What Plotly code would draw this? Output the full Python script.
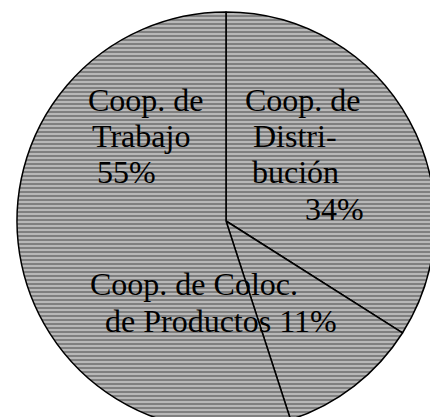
import plotly.graph_objects as go

# Data (clockwise from 12 o'clock)
categories = ["Coop. de Distribución", "Coop. de Coloc. de Productos", "Coop. de Trabajo"]
values = [34, 11, 55]

W, H = 438, 440
OFF = 8  # page body margin offset

def px_x(x):
    return (x - OFF) / W

def px_y(y):
    return 1 - (y - OFF) / H

# pie circle in window pixels: centre, radius
cx, cy, r = 226, 221, 209

fig = go.Figure(go.Pie(
    labels=categories,
    values=values,
    sort=False,
    direction="clockwise",
    rotation=0,
    textinfo="none",
    hoverinfo="label+percent",
    showlegend=False,
    domain=dict(x=[px_x(cx - r), px_x(cx + r)], y=[px_y(cy + r), px_y(cy - r)]),
    marker=dict(
        colors=["#808080"] * 3,
        line=dict(color="black", width=1.5),
        pattern=dict(shape="-", fgcolor="white", bgcolor="#808080",
                     size=4, solidity=0.22, fillmode="replace"),
    ),
))

# label lines: (text, left x px, baseline y px) in window pixels
label_lines = [
    ("Coop. de", 88, 111),
    ("Trabajo", 92, 147),
    ("55%", 97, 183),
    ("Coop. de", 245, 111),
    ("Distri-", 253, 147),
    ("bución", 252, 183),
    ("34%", 305, 220),
    ("Coop. de Coloc.", 90, 295),
    ("de Productos 11%", 105, 332),
]

FS = 32
for txt, xpx, ybase in label_lines:
    fig.add_annotation(
        text=txt, xref="paper", yref="paper",
        x=px_x(xpx - 2), y=px_y(ybase - 11),
        xanchor="left", yanchor="middle", showarrow=False,
        font=dict(family="Liberation Serif, Times New Roman, serif", size=FS, color="black"),
    )

fig.update_layout(
    width=W, height=H,
    margin=dict(l=0, r=0, t=0, b=0),
    paper_bgcolor="white",
    plot_bgcolor="white",
)

fig.write_html("out.html")
